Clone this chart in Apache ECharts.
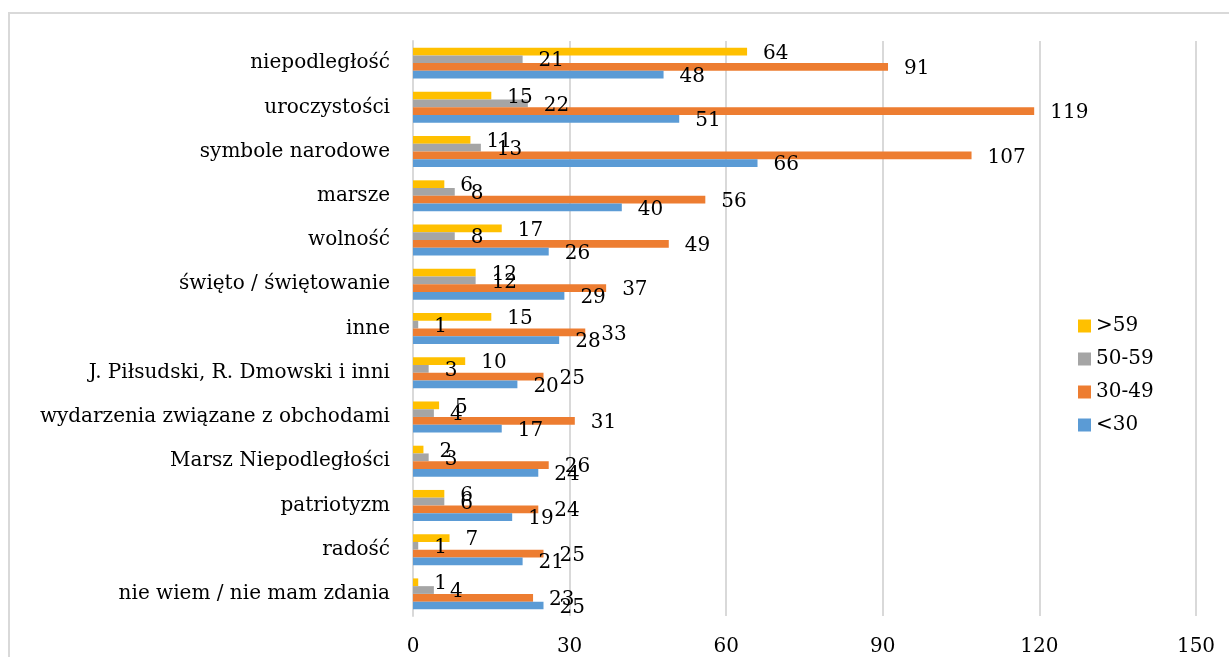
<!DOCTYPE html>
<html>
<head>
<meta charset="utf-8">
<script src="https://cdn.jsdelivr.net/npm/echarts@6/dist/echarts.min.js"></script>
<style>
  html, body { margin: 0; padding: 0; background: #fff; }
  #chart { width: 1229px; height: 657px; }
</style>
</head>
<body>
<div id="chart"></div>
<script>
// kategorie od góry do dołu
const categories = [
  "niepodległość",
  "uroczystości",
  "symbole narodowe",
  "marsze",
  "wolność",
  "święto / świętowanie",
  "inne",
  "J. Piłsudski, R. Dmowski i inni",
  "wydarzenia związane z obchodami",
  "Marsz Niepodległości",
  "patriotyzm",
  "radość",
  "nie wiem / nie mam zdania"
];

const over59 = [64, 15, 11, 6, 17, 12, 15, 10, 5, 2, 6, 7, 1];
const age50to59 = [21, 22, 13, 8, 8, 12, 1, 3, 4, 3, 6, 1, 4];
const age30to49 = [91, 119, 107, 56, 49, 37, 33, 25, 31, 26, 24, 25, 23];
const under30 = [48, 51, 66, 40, 26, 29, 28, 20, 17, 24, 19, 21, 25];

const xTicks = [0, 30, 60, 90, 120, 150];

const FONT = "DejaVu Serif";

const chart = echarts.init(document.getElementById("chart"));

// wspólne ustawienia serii słupkowej
const makeSeries = (name, data, color) => ({
  name: name,
  type: "bar",
  data: data,
  barGap: "0%",
  barCategoryGap: "30%",
  itemStyle: { color: color },
  label: {
    show: true,
    position: "right",
    distance: 16,
    offset: [0, 2],
    color: "#000",
    fontFamily: FONT,
    fontSize: 20
  }
});

const option = {
  backgroundColor: "#fff",
  animation: false,
  graphic: [
    {
      type: "rect",
      shape: { x: 9, y: 13, width: 1260, height: 700 },
      style: { fill: "none", stroke: "#d9d9d9", lineWidth: 2 },
      silent: true
    }
  ],
  legend: {
    orient: "vertical",
    left: 1073,
    top: 311,
    itemWidth: 13,
    itemHeight: 13,
    itemGap: 13,
    icon: "rect",
    textStyle: { fontFamily: FONT, fontSize: 20, color: "#000" },
    data: [">59", "50-59", "30-49", "<30"]
  },
  grid: {
    left: 413,
    right: 33,
    top: 41,
    bottom: 40,
    containLabel: false
  },
  xAxis: {
    type: "value",
    min: xTicks[0],
    max: xTicks[xTicks.length - 1],
    interval: 30,
    axisLine: { show: false },
    axisTick: { show: false },
    splitLine: { lineStyle: { color: "#d9d9d9", width: 2 } },
    axisLabel: {
      margin: 21,
      color: "#000",
      fontFamily: FONT,
      fontSize: 20
    }
  },
  yAxis: {
    type: "category",
    inverse: true,
    data: categories,
    axisTick: { show: false },
    axisLine: { lineStyle: { color: "#d9d9d9", width: 2 } },
    axisLabel: {
      margin: 23,
      color: "#000",
      fontFamily: FONT,
      fontSize: 20
    }
  },
  series: [
    makeSeries(">59", over59, "#ffc000"),
    makeSeries("50-59", age50to59, "#a5a5a5"),
    makeSeries("30-49", age30to49, "#ed7d31"),
    makeSeries("<30", under30, "#5b9bd5")
  ]
};

chart.setOption(option);
</script>
</body>
</html>
